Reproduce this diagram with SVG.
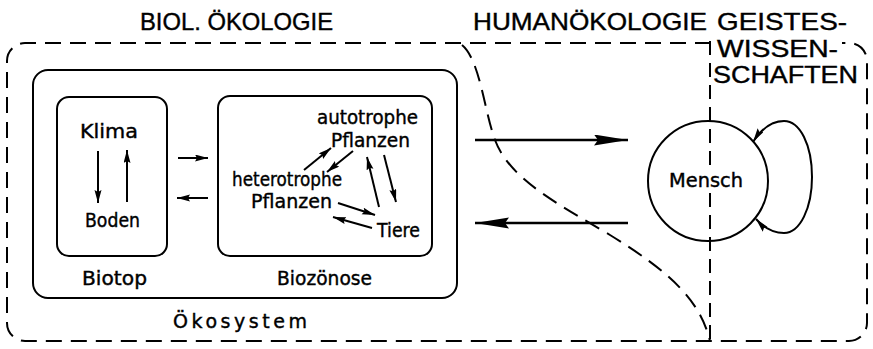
<svg xmlns="http://www.w3.org/2000/svg" width="873" height="349" viewBox="0 0 873 349">
<style>
  .box { fill: none; stroke: #000; stroke-width: 2; }
  .dash { fill: none; stroke: #000; stroke-width: 2; stroke-dasharray: 16 9; }
  .vdash { fill: none; stroke: #000; stroke-width: 2; stroke-dasharray: 14 8; }
  .arr { fill: none; stroke: #000; stroke-width: 2; marker-end: url(#ah); }
  .big { fill: none; stroke: #000; stroke-width: 2.5; marker-end: url(#bh); }
  .cap { font-family: "Liberation Sans", Arial, sans-serif; font-size: 24px; fill: #000; stroke: #000; stroke-width: 0.4; }
  .lab { font-family: "DejaVu Sans", sans-serif; font-size: 19px; fill: #000; stroke: #000; stroke-width: 0.4; }
</style>
<defs>
  <marker id="ah" markerUnits="userSpaceOnUse" markerWidth="14" markerHeight="8" refX="13" refY="3.5" orient="auto">
    <path d="M0,0 L13,3.5 L0,7 L2,3.5 z" fill="#000"/>
  </marker>
  <marker id="bh" markerUnits="userSpaceOnUse" markerWidth="36" markerHeight="12" refX="34" refY="5.5" orient="auto">
    <path d="M0,0 L34,5.5 L0,11 L4,5.5 z" fill="#000"/>
  </marker>
  <marker id="lh" markerUnits="userSpaceOnUse" markerWidth="16" markerHeight="8" refX="14" refY="3.5" orient="auto-start-reverse">
    <path d="M0,0 L14,3.5 L0,7 L2,3.5 z" fill="#000"/>
  </marker>
</defs>

<g id="headings">
  <text class="cap" x="140" y="30" textLength="193" lengthAdjust="spacingAndGlyphs">BIOL. ÖKOLOGIE</text>
  <text class="cap" x="473" y="30" textLength="234" lengthAdjust="spacingAndGlyphs">HUMANÖKOLOGIE</text>
  <text class="cap" x="717" y="30" textLength="130" lengthAdjust="spacingAndGlyphs">GEISTES-</text>
  <text class="cap" x="717" y="57" textLength="121" lengthAdjust="spacingAndGlyphs">WISSEN-</text>
  <text class="cap" x="713" y="83" textLength="145" lengthAdjust="spacingAndGlyphs">SCHAFTEN</text>
</g>

<g id="boundaries">
  <path class="dash" d="M711,43 L25,43 A18,18 0 0 0 7,61 L7,323 A18,18 0 0 0 25,341 L849,341 A18,18 0 0 0 867,323 L867,61 A18,18 0 0 0 849,43 L842,43"/>
  <path class="dash" d="M462,45 C480,60 484,110 495,140 C510,180 560,205 610,235 C670,272 700,300 710,341"/>
  <line class="vdash" x1="710" y1="41" x2="710" y2="168"/>
  <line class="vdash" x1="710" y1="193" x2="710" y2="341"/>
</g>

<g id="oekosystem">
  <rect class="box" x="33" y="70" width="424" height="228" rx="15" ry="15"/>
  <text class="lab" x="173" y="328" font-size="21" textLength="134" lengthAdjust="spacing">Ökosystem</text>
</g>

<g id="biotop">
  <rect class="box" x="57" y="97" width="110" height="159" rx="12" ry="12"/>
  <text class="lab" x="80" y="138" textLength="58" lengthAdjust="spacingAndGlyphs">Klima</text>
  <text class="lab" x="85" y="227" textLength="55" lengthAdjust="spacingAndGlyphs">Boden</text>
  <text class="lab" x="82" y="285" textLength="65" lengthAdjust="spacingAndGlyphs">Biotop</text>
</g>

<g id="biozoenose">
  <rect class="box" x="218" y="96" width="214" height="160" rx="12" ry="12"/>
  <text class="lab" x="317" y="124" textLength="101" lengthAdjust="spacingAndGlyphs">autotrophe</text>
  <text class="lab" x="331" y="147" textLength="79" lengthAdjust="spacingAndGlyphs">Pflanzen</text>
  <text class="lab" x="232" y="186" textLength="110" lengthAdjust="spacingAndGlyphs">heterotrophe</text>
  <text class="lab" x="251" y="208" textLength="81" lengthAdjust="spacingAndGlyphs">Pflanzen</text>
  <text class="lab" x="377" y="237" textLength="43" lengthAdjust="spacingAndGlyphs">Tiere</text>
  <text class="lab" x="277" y="285" textLength="95" lengthAdjust="spacingAndGlyphs">Biozönose</text>
</g>

<g id="mensch">
  <circle class="box" cx="708" cy="181" r="60"/>
  <text class="lab" x="669" y="187" textLength="74" lengthAdjust="spacingAndGlyphs">Mensch</text>
</g>

<g id="connectors">
  <line class="arr" x1="98" y1="151" x2="98" y2="203"/>
  <line class="arr" x1="127" y1="202" x2="127" y2="150"/>
  <line class="arr" x1="178" y1="158" x2="208" y2="158"/>
  <line class="arr" x1="208" y1="198" x2="177" y2="198"/>
  <line class="arr" x1="304" y1="170" x2="331" y2="148"/>
  <line class="arr" x1="353" y1="151" x2="327" y2="172"/>
  <line class="arr" x1="379" y1="207" x2="367" y2="157"/>
  <line class="arr" x1="384" y1="155" x2="396" y2="202"/>
  <line class="arr" x1="338" y1="203" x2="375" y2="215"/>
  <line class="arr" x1="372" y1="228" x2="333" y2="217"/>
  <line class="big" x1="475" y1="140" x2="628" y2="140"/>
  <line class="big" x1="628" y1="223" x2="475" y2="223"/>
  <path d="M753,142 C762,128 772,121 784,121 C800,121 812,145 812,177 C812,208 800,233 784,233 C772,233 764,228 756,219" fill="none" stroke="#000" stroke-width="2" marker-start="url(#lh)" marker-end="url(#lh)"/>
</g>
</svg>
